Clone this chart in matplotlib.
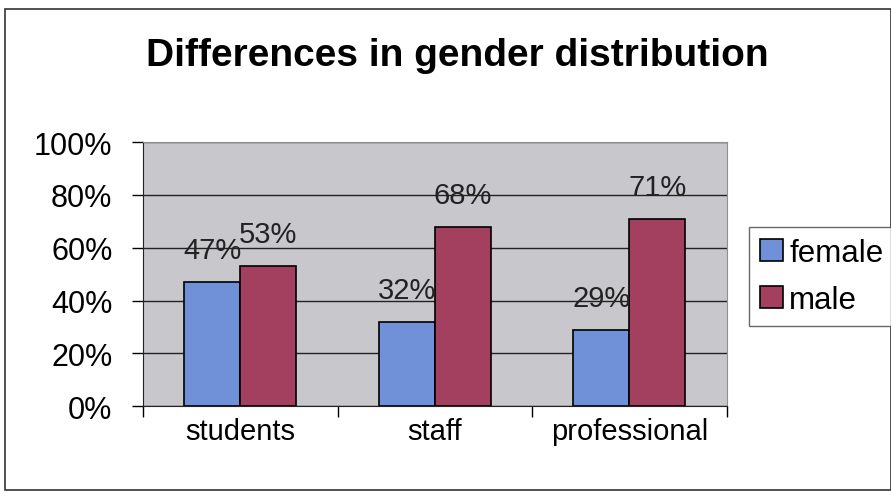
import matplotlib.pyplot as plt
import numpy as np
from matplotlib.patches import Rectangle

plt.rcParams['font.family'] = ['Liberation Sans', 'DejaVu Sans']

categories = ["students", "staff", "professional"]
female = [47, 32, 29]
male = [53, 68, 71]
series_names = ["female", "male"]
yticks = [0, 20, 40, 60, 80, 100]

fig = plt.figure(figsize=(8.91, 5.02), dpi=100)
ax = fig.add_axes([0.1605, 0.189, 0.655, 0.526])

x = np.arange(len(categories))
w = 0.288
b1 = ax.bar(x - w / 2, female, w, color='#7090d8', edgecolor='black', linewidth=1.2, label=series_names[0], zorder=3)
b2 = ax.bar(x + w / 2, male, w, color='#a3405f', edgecolor='black', linewidth=1.2, label=series_names[1], zorder=3)

# data labels sit above the bars, like Excel
for bars, vals in ((b1, female), (b2, male)):
    for rect, v in zip(bars, vals):
        ax.annotate("%d%%" % v, (rect.get_x() + rect.get_width() / 2, v),
                    xytext=(0, 23), textcoords='offset points', ha='center', va='center',
                    fontsize=21, color='#222222', zorder=4)

ax.set_facecolor('#c8c8cc')
ax.set_xlim(-0.5, 2.5)
ax.set_ylim(0, 100)
ax.set_yticks(yticks)
ax.set_yticklabels(["%d%%" % t for t in yticks], fontsize=22)
ax.yaxis.grid(True, color='#222222', linewidth=1.0, zorder=1)
ax.tick_params(axis='y', length=8, width=1, direction='out', pad=14)

ax.set_xticks([-0.5, 0.5, 1.5, 2.5])
ax.set_xticklabels([])
ax.set_xticks(x, minor=True)
ax.set_xticklabels(categories, minor=True, fontsize=21)
ax.tick_params(axis='x', which='major', length=8, width=1, direction='out')
ax.tick_params(axis='x', which='minor', length=0, pad=8)

for side in ('top', 'right'):
    ax.spines[side].set_color('#909090')
for side in ('left', 'bottom'):
    ax.spines[side].set_color('#222222')

fig.text(0.513, 0.888, "Differences in gender distribution", ha='center', va='center',
         fontsize=28, fontweight='bold')

leg = fig.legend(handles=[b1, b2], labels=series_names, loc='upper left',
                 bbox_to_anchor=(0.841, 0.546), fontsize=22.5, frameon=True, fancybox=False,
                 edgecolor='#444444', handlelength=0.72, handleheight=0.72, handletextpad=0.2,
                 borderpad=0.35, labelspacing=0.55, borderaxespad=0)
leg.get_frame().set_linewidth(1.0)

# outer chart border
fig.patches.append(Rectangle((0.006, 0.022), 0.994, 0.958, transform=fig.transFigure,
                             fill=False, edgecolor='#333333', linewidth=1.2))

fig.savefig("out.png", dpi=100)
